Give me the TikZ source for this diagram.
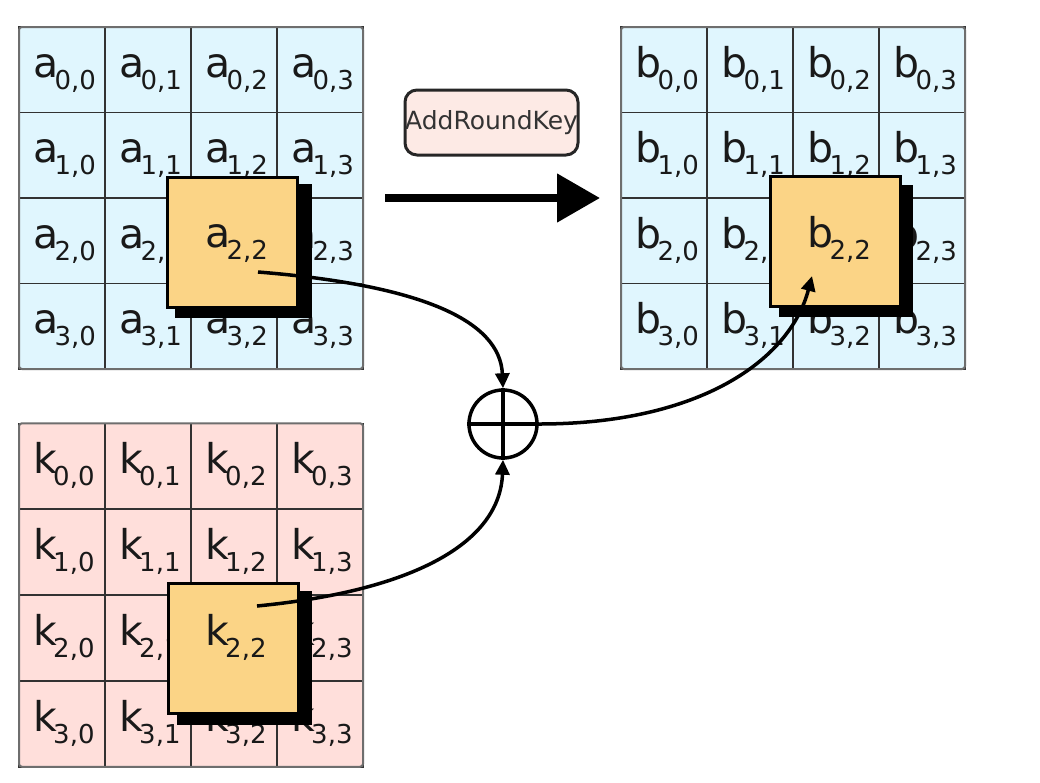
\documentclass[tikz,border=0pt]{standalone}
\usepackage{fontspec}
\setmainfont{DejaVu Sans}
\usetikzlibrary{arrows.meta,calc}
\definecolor{cellblue}{RGB}{224,246,254}
\definecolor{cellpink}{RGB}{255,223,219}
\definecolor{hlorange}{RGB}{251,212,134}
\definecolor{arkfill}{RGB}{253,234,229}
\definecolor{gridline}{RGB}{50,50,50}
\definecolor{bordergray}{RGB}{110,110,110}
\newcommand\cellsym[2]{{\fontsize{41}{41}\selectfont #1}\kern-3.5pt\raisebox{-12pt}{\fontsize{26}{26}\selectfont #2}}
\tikzset{
  cellbox/.style={draw=gridline, line width=1.5pt, minimum width=86pt, minimum height=85.5pt, inner sep=0pt, outer sep=0pt},
  celltext/.style={inner sep=0pt, outer sep=0pt, anchor=base west, text=black!90},
  gridborder/.style={draw=bordergray, line width=2pt, rounded corners=3pt},
  hlbox/.style={draw=black, line width=3pt, fill=hlorange, minimum width=130pt, minimum height=130pt, inner sep=0pt},
  hlshadow/.style={fill=black},
  conn/.style={draw=black, line width=3.5pt, -{Triangle[length=15pt,width=14pt]}},
  bigarrow/.style={draw=black, line width=8pt, -{Triangle[length=43pt,width=47pt]}},
  arkbox/.style={draw=black!85, line width=3pt, fill=arkfill, rounded corners=12pt, minimum width=173pt, minimum height=65pt, inner sep=0pt, font=\fontsize{25}{25}\selectfont, text=black!80},
  xorbox/.style={circle, draw=black, line width=3.5pt, minimum size=68pt, inner sep=0pt}
}
\newcommand\mygrid[6]{%
  \foreach \ri in {0,...,3}{\foreach \ci in {0,...,3}{
    \node[cellbox, fill=#5] (#1\ri\ci) at ({#2+43+86*\ci},{#3+#6/2+#6*\ri}) {};
  }}
  \foreach \ri in {0,...,3}{\foreach \ci in {0,...,3}{
    \node[celltext] (#1t\ri\ci) at ({#2+14+86*\ci},{#3+50+#6*\ri}) {\cellsym{#4}{\ri,\ci}};
  }}
  \draw[gridborder] (#100.north west) rectangle (#133.south east);
}
\begin{document}
\begin{tikzpicture}[x=1pt,y=-1pt]
\useasboundingbox (0,0) rectangle (1040,782);
\fill[white] (0,0) rectangle (1040,782);
% grids
\mygrid{a}{19}{27}{a}{cellblue}{85.5}
\mygrid{b}{621}{27}{b}{cellblue}{85.5}
\mygrid{k}{19}{423}{k}{cellpink}{86}
% highlighted cells
\fill[hlshadow] (175,184) rectangle (312,318);
\node[hlbox] (abox) at (232,242) {};
\node[celltext] (atext) at (205,247) {\cellsym{a}{2,2}};
\fill[hlshadow] (779,185) rectangle (913,317);
\node[hlbox] (bbox) at (835.5,241.5) {};
\node[celltext] (btext) at (807,247) {\cellsym{b}{2,2}};
\fill[hlshadow] (177,591) rectangle (312,725);
\node[hlbox] (kbox) at (233.5,648) {};
\node[celltext] (ktext) at (205,645) {\cellsym{k}{2,2}};
% AddRoundKey label and arrow
\node[arkbox] (ark) at (491.5,122.5) {AddRoundKey};
\coordinate (bigs) at (385,198);
\coordinate (bige) at (600,198);
\draw[bigarrow] (bigs) -- (bige);
% xor
\node[xorbox] (xor) at (503,424) {};
\draw[line width=3.5pt] (xor.north) -- (xor.south) (xor.west) -- (xor.east);
% connectors
\coordinate (astart) at (258,272);
\coordinate (kstart) at (257,606);
\coordinate (bend) at (812,276);
\draw[conn] (astart) .. controls (420,285) and (500,320) .. (xor.north);
\draw[conn] (kstart) .. controls (420,590) and (500,540) .. (xor.south);
\draw[conn] (xor.east) .. controls (700,424) and (790,360) .. (bend);
\end{tikzpicture}
\end{document}
